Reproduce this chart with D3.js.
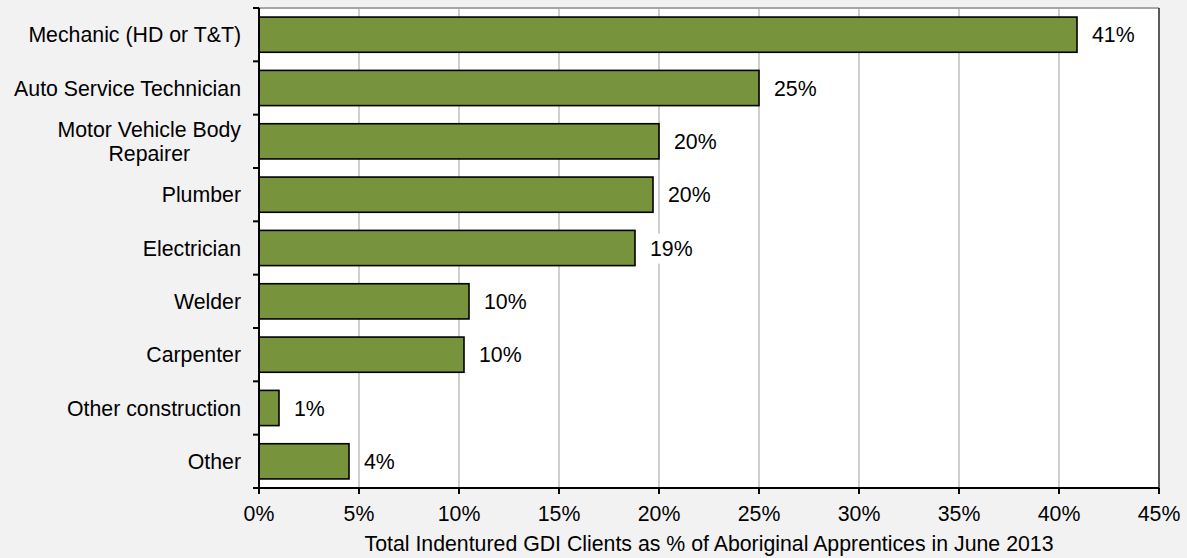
<!DOCTYPE html>
<html>
<head>
<meta charset="utf-8">
<script src="https://cdn.jsdelivr.net/npm/d3@7"></script>
<style>
  html, body { margin: 0; padding: 0; background: #f2f2f2; }
  svg { display: block; font-family: "Liberation Sans", Arial, sans-serif; }
</style>
</head>
<body>
<svg id="chart" width="1187" height="558"></svg>
<script>
// Trades and their share of Aboriginal apprentices (percent)
const categories = [
  "Mechanic (HD or T&T)",
  "Auto Service Technician",
  "Motor Vehicle Body\nRepairer",
  "Plumber",
  "Electrician",
  "Welder",
  "Carpenter",
  "Other construction",
  "Other"
];
const values = [40.9, 25.0, 20.0, 19.7, 18.8, 10.5, 10.25, 1.0, 4.5];
const valueLabels = ["41%", "25%", "20%", "20%", "19%", "10%", "10%", "1%", "4%"];
const xTicks = [0, 5, 10, 15, 20, 25, 30, 35, 40, 45];
const xTitle = "Total Indentured GDI Clients as % of Aboriginal Apprentices in June 2013";

const svg = d3.select("#chart");
const FONT = 21.3;
const margin = { left: 259, top: 8, right: 1159, bottom: 488 };

const x = d3.scaleLinear().domain([0, 45]).range([margin.left, margin.right]);
const y = d3.scaleBand().domain(categories).range([margin.top, margin.bottom])
  .paddingInner(0.34).paddingOuter(0.17);
const step = y.step();

// plot background
svg.append("rect")
  .attr("x", margin.left).attr("y", margin.top)
  .attr("width", margin.right - margin.left).attr("height", margin.bottom - margin.top)
  .attr("fill", "#ffffff");

// vertical gridlines
svg.append("g").selectAll("line").data(xTicks.slice(1, -1)).join("line")
  .attr("x1", d => x(d)).attr("x2", d => x(d))
  .attr("y1", margin.top).attr("y2", margin.bottom)
  .attr("stroke", "#bfbfbf").attr("stroke-width", 1.5);

// plot border: top and right
svg.append("line").attr("x1", margin.left).attr("x2", margin.right)
  .attr("y1", margin.top).attr("y2", margin.top)
  .attr("stroke", "#a6a6a6").attr("stroke-width", 2);
svg.append("line").attr("x1", margin.right).attr("x2", margin.right)
  .attr("y1", margin.top).attr("y2", margin.bottom)
  .attr("stroke", "#262626").attr("stroke-width", 1.5);

// bars
svg.append("g").selectAll("rect").data(categories).join("rect")
  .attr("x", x(0))
  .attr("y", d => y(d))
  .attr("width", (d, i) => x(values[i]) - x(0))
  .attr("height", y.bandwidth())
  .attr("fill", "#77933c")
  .attr("stroke", "#000000")
  .attr("stroke-width", 1.6);

// value labels with white backing
const lab = svg.append("g");
categories.forEach((c, i) => {
  const g = lab.append("g");
  const t = g.append("text")
    .attr("x", x(values[i]) + 15)
    .attr("y", y(c) + y.bandwidth() / 2)
    .attr("dy", "0.36em")
    .attr("font-size", FONT)
    .attr("fill", "#000")
    .text(valueLabels[i]);
  const bb = t.node().getBBox();
  g.insert("rect", "text")
    .attr("x", bb.x - 4).attr("y", bb.y - 3)
    .attr("width", bb.width + 8).attr("height", bb.height + 6)
    .attr("fill", "#ffffff");
});

// x axis
const xAxis = svg.append("g");
xAxis.append("line").attr("x1", margin.left - 6).attr("x2", margin.right)
  .attr("y1", margin.bottom).attr("y2", margin.bottom)
  .attr("stroke", "#000").attr("stroke-width", 2);
xAxis.selectAll("line.tick").data(xTicks).join("line").attr("class", "tick")
  .attr("x1", d => x(d)).attr("x2", d => x(d))
  .attr("y1", margin.bottom).attr("y2", margin.bottom + 6)
  .attr("stroke", "#000").attr("stroke-width", 2);
xAxis.selectAll("text").data(xTicks).join("text")
  .attr("x", d => x(d)).attr("y", 521)
  .attr("text-anchor", "middle").attr("font-size", FONT).attr("fill", "#000")
  .text(d => d + "%");
svg.append("text")
  .attr("x", x(22.5)).attr("y", 551)
  .attr("text-anchor", "middle").attr("font-size", FONT).attr("fill", "#000")
  .text(xTitle);

// y axis
const yAxis = svg.append("g");
yAxis.append("line").attr("x1", margin.left).attr("x2", margin.left)
  .attr("y1", margin.top).attr("y2", margin.bottom)
  .attr("stroke", "#000").attr("stroke-width", 2);
const bounds = d3.range(categories.length + 1).map(i => margin.top + i * step);
yAxis.selectAll("line.tick").data(bounds).join("line").attr("class", "tick")
  .attr("x1", margin.left - 6).attr("x2", margin.left)
  .attr("y1", d => d).attr("y2", d => d)
  .attr("stroke", "#000").attr("stroke-width", 2);

// category labels (multi-line labels centred on each other, block right-aligned)
categories.forEach(c => {
  const lines = c.split("\n");
  const cy = y(c) + y.bandwidth() / 2;
  const lh = 24;
  const g = yAxis.append("g");
  const texts = lines.map((ln, k) => g.append("text")
    .attr("y", cy + (k - (lines.length - 1) / 2) * lh)
    .attr("dy", "0.36em")
    .attr("font-size", FONT).attr("fill", "#000")
    .text(ln));
  const widths = texts.map(t => t.node().getComputedTextLength());
  const maxW = d3.max(widths);
  const right = 241;
  texts.forEach(t => t.attr("x", right - maxW / 2).attr("text-anchor", "middle"));
});
</script>
</body>
</html>
